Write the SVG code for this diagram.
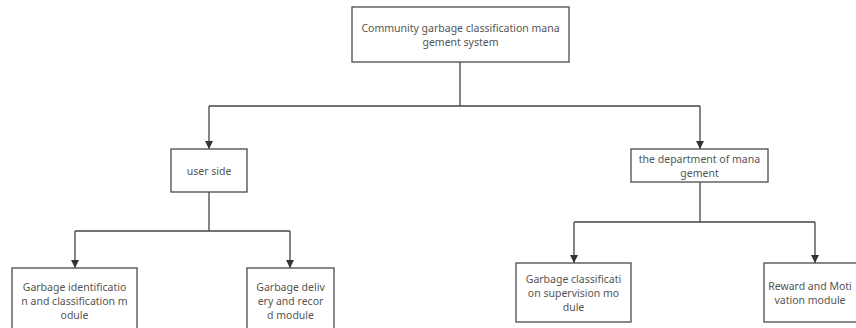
<svg xmlns="http://www.w3.org/2000/svg" width="856" height="328" viewBox="0 0 856 328">
<style>
.box{fill:#fff;stroke:#4a4a4a;stroke-width:1.3}
.t{font-family:"Noto Sans","Open Sans",sans-serif;font-size:10.5px;fill:#555;text-anchor:middle;dominant-baseline:central}
.c{fill:none;stroke:#444;stroke-width:1.3}
</style>
<defs>
<marker id="ah" viewBox="0 0 10 10" refX="10" refY="5" markerWidth="8" markerHeight="8" markerUnits="userSpaceOnUse" orient="auto">
<path d="M0,0 L10,5 L0,10 z" fill="#333"/>
</marker>
</defs>
<rect width="856" height="328" fill="#fff"/>
<g id="connectors">
<path class="c" d="M460,62 V106"/>
<path class="c" d="M209,106 H700"/>
<path class="c" d="M209,106 V149" marker-end="url(#ah)"/>
<path class="c" d="M700,106 V149" marker-end="url(#ah)"/>
<path class="c" d="M209,192 V231"/>
<path class="c" d="M75,231 H290"/>
<path class="c" d="M75,231 V268" marker-end="url(#ah)"/>
<path class="c" d="M290,231 V268" marker-end="url(#ah)"/>
<path class="c" d="M700,182 V222"/>
<path class="c" d="M574,222 H815"/>
<path class="c" d="M574,222 V263" marker-end="url(#ah)"/>
<path class="c" d="M815,222 V263" marker-end="url(#ah)"/>
</g>
<g id="root">
<rect class="box" x="352" y="7" width="217" height="55"/>
<text class="t" x="460.5" y="28">Community garbage classification mana</text>
<text class="t" x="460.5" y="42">gement system</text>
</g>
<g id="user-side">
<rect class="box" x="171" y="149" width="76" height="43"/>
<text class="t" x="209" y="170.5">user side</text>
</g>
<g id="department">
<rect class="box" x="631" y="149" width="137" height="33"/>
<text class="t" x="699.5" y="158.5">the department of mana</text>
<text class="t" x="699.5" y="172.5">gement</text>
</g>
<g id="identification">
<rect class="box" x="12" y="268" width="125" height="64"/>
<text class="t" x="74.5" y="287">Garbage identificatio</text>
<text class="t" x="74.5" y="301">n and classification m</text>
<text class="t" x="74.5" y="315">odule</text>
</g>
<g id="delivery">
<rect class="box" x="247" y="268" width="87" height="64"/>
<text class="t" x="290.5" y="287">Garbage deliv</text>
<text class="t" x="290.5" y="301">ery and recor</text>
<text class="t" x="290.5" y="315">d module</text>
</g>
<g id="supervision">
<rect class="box" x="516" y="263" width="115" height="59"/>
<text class="t" x="573.5" y="279">Garbage classificati</text>
<text class="t" x="573.5" y="293">on supervision mo</text>
<text class="t" x="573.5" y="307">dule</text>
</g>
<g id="reward">
<rect class="box" x="764" y="263" width="102" height="59"/>
<text class="t" x="810" y="286">Reward and Moti</text>
<text class="t" x="810" y="300">vation module</text>
</g>
</svg>
